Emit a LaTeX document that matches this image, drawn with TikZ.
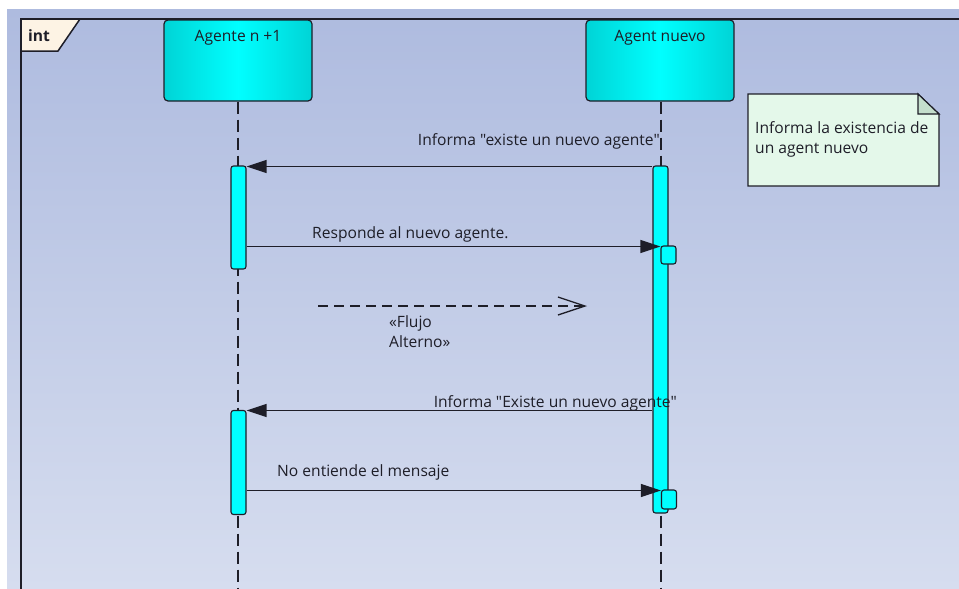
\documentclass[tikz,border=0pt]{standalone}
\usepackage{fontspec}
\setmainfont[Ligatures=TeXOff]{Open Sans}
\usetikzlibrary{arrows.meta,calc}

\definecolor{bgtop}{RGB}{174,187,223}
\definecolor{bgbot}{RGB}{214,221,239}
\definecolor{ink}{RGB}{30,30,40}
\definecolor{tabfill}{RGB}{253,243,228}
\definecolor{notefill}{RGB}{228,248,234}
\definecolor{notefold}{RGB}{196,222,204}
\definecolor{barcyan}{RGB}{0,255,255}
\definecolor{headedge}{RGB}{0,212,214}

\tikzset{
  frameline/.style={draw=ink, line width=1.5pt},
  head/.style={draw=ink, line width=1.2pt, rounded corners=4pt,
    minimum width=148pt, minimum height=81pt, inner sep=0pt,
    left color=headedge, right color=headedge, middle color=barcyan},
  bar/.style={draw=ink, line width=1.1pt, rounded corners=2.5pt,
    fill=barcyan, minimum width=15pt, inner sep=0pt},
  lifeline/.style={draw=ink, line width=1.4pt, dash pattern=on 12pt off 6pt},
  msg/.style={draw=ink, line width=1.2pt, -{Triangle[length=20pt,width=13pt]}},
  flow/.style={draw=ink, line width=1.3pt, dash pattern=on 10pt off 6pt,
    -{Straight Barb[length=27pt,width=18pt,line width=1.3pt]}},
  txt/.style={text=ink, inner sep=0pt, font=\fontsize{15.6}{20}\selectfont},
}

\begin{document}
\begin{tikzpicture}[x=1pt,y=-1pt]
  \useasboundingbox (0,0) rectangle (959,589);
  % canvas
  \fill[white] (0,0) rectangle (959,589);
  \shade[top color=bgtop, bottom color=bgbot] (7,9) rectangle (959,589);

  % interaction frame and its name tab
  \draw[frameline] (21,589) -- (21,19) -- (959,19);
  \draw[frameline, fill=tabfill] (21,19) -- (80,19) -- (58,51) -- (21,51) -- cycle;
  \node[txt, anchor=base west, font=\bfseries\fontsize{15.6}{20}\selectfont] (tab) at (28,41) {int};

  % lifeline heads
  \node[head] (h1) at (238,60.5) {};
  \node[head] (h2) at (660,60.5) {};
  \node[txt, anchor=base] (h1t) at (238,41) {Agente n +1};
  \node[txt, anchor=base] (h2t) at (660,41) {Agent nuevo};

  % lifelines
  \coordinate (bottom) at (0,589);
  \draw[lifeline] (h1.south) -- (h1.south |- bottom);
  \draw[lifeline] ([xshift=1pt]h2.south) -- ([xshift=1pt]h2.south |- bottom);

  % activations
  \node[bar, minimum height=103pt] (lb1) at (238.5,217.5) {};
  \node[bar, minimum height=104pt] (lb2) at (238.5,462.5) {};
  \node[bar, minimum height=347pt] (rb) at (660.5,339.5) {};
  \node[bar, minimum height=18pt] (sb1) at (668.5,255) {};
  \node[bar, minimum height=19pt] (sb2) at (669,499.5) {};

  % message rows
  \coordinate (m1) at (0,166.5);
  \coordinate (m2) at (0,246.5);
  \coordinate (m3) at (0,410.5);
  \coordinate (m4) at (0,490.5);

  \draw[msg] (rb.west |- m1) -- (lb1.east |- m1);
  \draw[msg] (lb1.east |- m2) -- (sb1.west |- m2);
  \draw[msg] (rb.west |- m3) -- (lb2.east |- m3);
  \draw[msg] (lb2.east |- m4) -- (sb2.west |- m4);

  \node[txt, anchor=base east] (l1) at (660,145) {Informa "existe un nuevo agente"};
  \node[txt, anchor=base west] (l2) at (312,238) {Responde al nuevo agente.};
  \node[txt, anchor=base east] (l3) at (677,407) {Informa "Existe un nuevo agente"};
  \node[txt, anchor=base west] (l4) at (277,476) {No entiende el mensaje};

  % alternative flow marker (two-line label, anchored on its last line)
  \coordinate (fa) at (318,306);
  \coordinate (fb) at (587,306);
  \draw[flow] (fa) -- (fb);
  \node[txt, anchor=base west, align=left] (fl) at (389,347) {«Flujo\\Alterno»};

  % note
  \draw[draw=ink, line width=1.2pt, fill=notefill]
    (748,94) -- (918,94) -- (939,114) -- (939,186) -- (748,186) -- cycle;
  \draw[draw=ink, line width=1.2pt, fill=notefold]
    (918,94) -- (918,114) -- (939,114) -- cycle;
  \node[txt, anchor=base west, align=left] (nt) at (755,153)
    {Informa la existencia de\\un agent nuevo};
\end{tikzpicture}
\end{document}
